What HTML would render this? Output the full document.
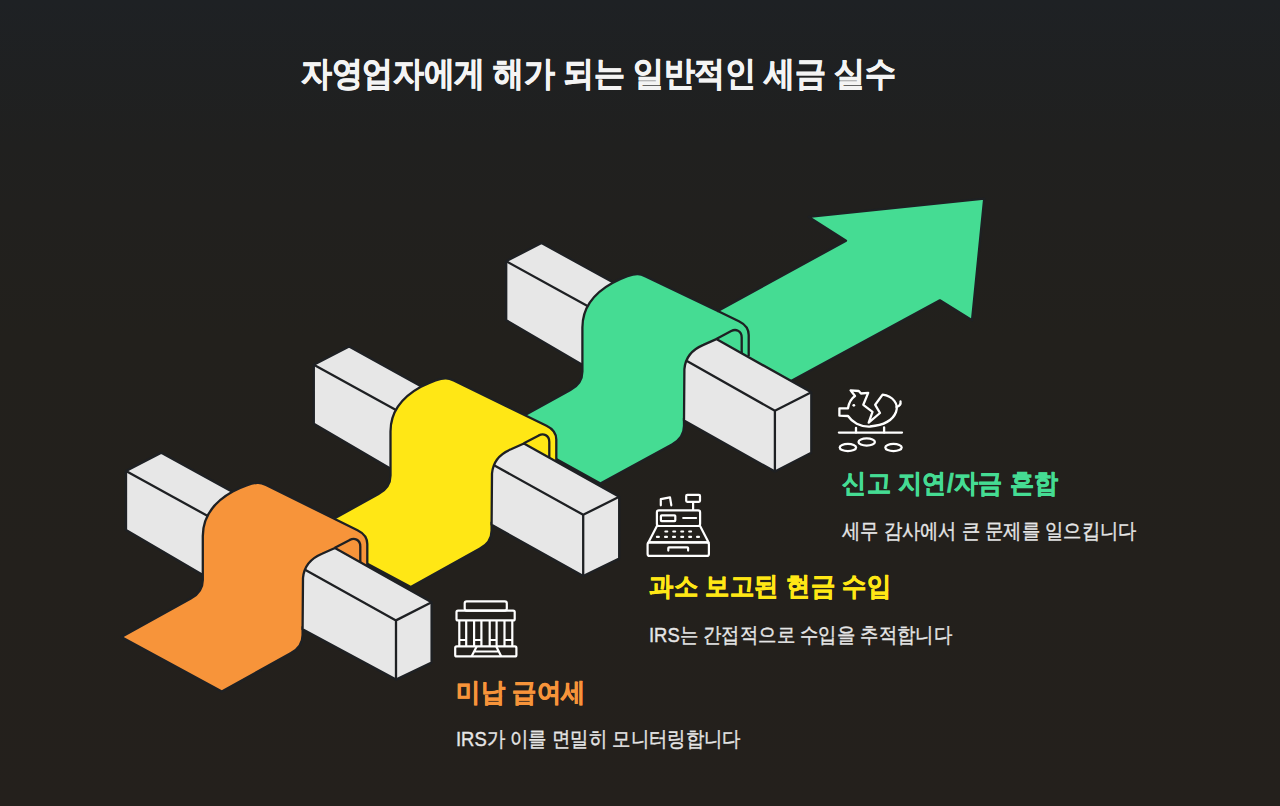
<!DOCTYPE html>
<html lang="ko"><head><meta charset="utf-8"><title>자영업자에게 해가 되는 일반적인 세금 실수</title>
<style>
html,body{margin:0;padding:0;}
body{width:1280px;height:806px;overflow:hidden;position:relative;background:linear-gradient(180deg,#1e2124 0%,#20201f 18%,#21201e 26%,#22201c 42%,#24201c 100%);font-family:'Liberation Sans',sans-serif;}
.t{position:absolute;white-space:nowrap;line-height:1;transform-origin:0 0;}
svg{position:absolute;left:0;top:0;}
</style></head><body>
<svg width="1280" height="806" viewBox="0 0 1280 806">
<path d="M506.2,261.2 L541.5,243 L620.2,286.3 L585.2,350.2 L585.2,366.4 L506.2,320.2 Z" fill="#E7E7E7" stroke="#1e2023" stroke-width="2.3" stroke-linejoin="round"/><path d="M506.2,261.2 L595.2,310.2" stroke="#1e2023" stroke-width="2.3" fill="none"/><path d="M500.9,428.4 L570.4,389.9 Q582.4,383.6 582.4,371.4 L582.4,327.4 C582.4,309.4 591.6,294.4 612.8,282.7 C621.6,278.4 629.6,274.4 637.2,274.2 Q640.6,274 645.6,276.4 L717.8,311 L846,240.7 L808.7,216.9 L984.2,198.7 L972,320.3 L939.9,300.3 L780,387 L740,400 L684,418.1 L684,426.1 Q684,438.2 672,444.4 L600.4,483.6 Z" fill="#45DC93" stroke="#1e2023" stroke-width="2.3" stroke-linejoin="round"/><path d="M717.8,311 L738.9,321.3 Q748.7,326.1 748.7,335.1 L748.7,356.1" stroke="#1e2023" stroke-width="2.3" fill="none"/><path d="M716.3,338.9 L731.2,331 C735.4,328.9 741.7,330.1 741.7,337.5 L741.7,353.1" stroke="#1e2023" stroke-width="2.3" fill="none"/><path d="M716.3,339.1 L703.4,344.9 C693.4,349.1 685.4,357.1 684.4,369.1 L684,420.4 L774.9,471.6 L811.3,452.7 L811.3,392.3 Z" fill="#E7E7E7" stroke="#1e2023" stroke-width="2.3" stroke-linejoin="round"/><path d="M686.9,361.1 L774.9,410.8 L811.3,392.3 M774.9,410.8 L774.9,471.6" stroke="#1e2023" stroke-width="2.3" fill="none" stroke-linejoin="round"/><path d="M313.8,364.8 L349.1,346.6 L427.8,389.9 L392.8,453.8 L392.8,470 L313.8,423.8 Z" fill="#E7E7E7" stroke="#1e2023" stroke-width="2.3" stroke-linejoin="round"/><path d="M313.8,364.8 L402.8,413.8" stroke="#1e2023" stroke-width="2.3" fill="none"/><path d="M309,532.5 L378.5,494 Q390.5,487.7 390.5,475.5 L390.5,431.5 C390.5,413.5 399.7,398.5 420.9,386.8 C429.7,382.5 437.7,378.5 445.3,378.3 Q448.7,378.1 453.7,380.5 L546.5,425.7 Q556.3,430.5 556.3,439.5 L556.3,485.5 L519,495.5 L491.6,522.5 L491.6,530.5 Q491.6,542.6 479.6,548.8 L410.8,587 Z" fill="#FFE715" stroke="#1e2023" stroke-width="2.3" stroke-linejoin="round"/><path d="M523.9,443.3 L538.8,435.4 C543,433.3 549.3,434.5 549.3,441.9 L549.3,457.5" stroke="#1e2023" stroke-width="2.3" fill="none"/><path d="M523.9,443.5 L511,449.3 C501,453.5 493,461.5 492,473.5 L491.6,524.8 L583.2,576 L619.2,558.6 L619.2,496.8 Z" fill="#E7E7E7" stroke="#1e2023" stroke-width="2.3" stroke-linejoin="round"/><path d="M494.5,465.5 L583.2,514.8 L619.2,496.8 M583.2,514.8 L583.2,576" stroke="#1e2023" stroke-width="2.3" fill="none" stroke-linejoin="round"/><path d="M126,471 L161.3,452.8 L240,496.1 L205,560 L205,576.2 L126,530 Z" fill="#E7E7E7" stroke="#1e2023" stroke-width="2.3" stroke-linejoin="round"/><path d="M126,471 L215,520" stroke="#1e2023" stroke-width="2.3" fill="none"/><path d="M121.3,637 L190.8,598.5 Q202.8,592.2 202.8,580 L202.8,536 C202.8,518 212,503 233.2,491.3 C242,487 250,483 257.6,482.8 Q261,482.6 266,485 L357.5,530.2 Q367.3,535 367.3,544 L367.3,590 L330,600 L302.6,627 L302.6,635 Q302.6,647.1 290.6,653.3 L221.8,691.5 Z" fill="#F7943A" stroke="#1e2023" stroke-width="2.3" stroke-linejoin="round"/><path d="M334.9,547.8 L349.8,539.9 C354,537.8 360.3,539 360.3,546.4 L360.3,562" stroke="#1e2023" stroke-width="2.3" fill="none"/><path d="M334.9,548 L322,553.8 C312,558 304,566 303,578 L302.6,629.3 L396,679.6 L431.6,662.6 L431.6,602.3 Z" fill="#E7E7E7" stroke="#1e2023" stroke-width="2.3" stroke-linejoin="round"/><path d="M305.5,570 L396,620.4 L431.6,602.3 M396,620.4 L396,679.6" stroke="#1e2023" stroke-width="2.3" fill="none" stroke-linejoin="round"/>
<g fill="none" stroke="#FFFFFF" stroke-width="2.2" stroke-linejoin="round">
<rect x="464.7" y="601.3" width="42.1" height="9.3" rx="2"/>
<rect x="456.5" y="610.6" width="58.2" height="9.8" rx="1.5"/>
<path d="M459.3,620.4 V646.4 M466.2,620.4 V646.4 M474.1,620.4 V646.4 M481.4,620.4 V646.4 M489.7,620.4 V646.4 M496.6,620.4 V646.4 M504.5,620.4 V646.4 M512.3,620.4 V646.4"/>
<path d="M459.3,640 H466.2 M474.1,640 H481.4 M489.7,640 H496.6 M504.5,640 H512.3"/>
<rect x="455.2" y="646.4" width="61.2" height="10" rx="1.5"/>
<path d="M476.7,646.4 L471.5,656.4 M496.3,646.4 L501.3,656.4 M473.8,651.5 H499"/>
</g><g fill="none" stroke="#FFFFFF" stroke-width="2.2" stroke-linejoin="round" stroke-linecap="round">
<rect x="686.2" y="494.9" width="13.8" height="6.9" rx="1"/>
<path d="M693.1,502 V509.8"/>
<path d="M660.8,505.3 V499.2 L670,497.4 L671.3,505.3"/>
<rect x="656.9" y="510.4" width="43.2" height="15.6" rx="2"/>
<rect x="660.9" y="515.3" width="14.4" height="5.8" rx="0.8"/>
<path d="M683.2,518 H696.1"/>
<path d="M656.9,526 L648.4,542.4 H708.6 L700.1,526"/>
<rect x="647.6" y="542.4" width="61.3" height="13.5" rx="2"/>
<path d="M668.3,550.6 V548 Q668.3,547.4 669,547.4 H687.4 Q688.1,547.4 688.1,548 V550.6"/>
</g>
<g fill="#FFFFFF">
<rect x="664.3" y="530.4" width="4" height="2.2" rx="1"/><rect x="672.2" y="530.4" width="4" height="2.2" rx="1"/><rect x="680.2" y="530.4" width="4" height="2.2" rx="1"/><rect x="688.1" y="530.4" width="4" height="2.2" rx="1"/>
<rect x="655.9" y="535.7" width="4" height="2.2" rx="1"/><rect x="664" y="535.7" width="4" height="2.2" rx="1"/><rect x="672" y="535.7" width="4" height="2.2" rx="1"/><rect x="680.2" y="535.7" width="4" height="2.2" rx="1"/><rect x="688.1" y="535.7" width="4" height="2.2" rx="1"/><rect x="696" y="535.7" width="4" height="2.2" rx="1"/>
</g><g fill="none" stroke="#FFFFFF" stroke-width="2.3" stroke-linejoin="round" stroke-linecap="round">
<path d="M838.9,432.6 H902"/>
<path d="M856,427.8 V432.6 M884.1,427.3 V432.6"/>
<ellipse cx="847.9" cy="447.5" rx="8.2" ry="3.6"/>
<ellipse cx="866.7" cy="442" rx="8.2" ry="3.6"/>
<ellipse cx="893.5" cy="447.5" rx="8.2" ry="3.6"/>
<path d="M868.7,422.7 L880,413 L875.2,404.8 L882.6,394.6 C893,396 899,404 896,412 C893,420 886,425 870,426.5 C860,427 852,422 848,416 L839.4,415.7 V408.3 L848,408.3 C849,402 852,398 855,396 L850.6,390.3 L858.8,391 L861,393.5 L868.2,392.9 L863.3,404.8 L872.5,411.8 Z"/>
<path d="M896.5,407 C899.5,406 901,404 900.5,401.5"/>
</g>
<circle cx="853.8" cy="405.3" r="1.4" fill="#FFFFFF"/>
</svg>
<div class="t" id="title" style="left:301px;top:56.3px;font-size:33px;font-weight:700;color:#f4f4f4;transform:scale(0.929,1.02);-webkit-text-stroke:0.7px #f4f4f4">자영업자에게 해가 되는 일반적인 세금 실수</div>
<div class="t" id="h1" style="left:456px;top:678.5px;font-size:27px;font-weight:700;color:#F7943A;transform:scale(0.913,0.98);-webkit-text-stroke:0.6px #F7943A">미납 급여세</div>
<div class="t" id="s1" style="left:456px;top:728.3px;font-size:21px;font-weight:400;color:#e6e6e6;transform:scale(0.875,1);-webkit-text-stroke:0.4px #e6e6e6">IRS가 이를 면밀히 모니터링합니다</div>
<div class="t" id="h2" style="left:648.5px;top:573.3px;font-size:27px;font-weight:700;color:#FFE715;transform:scale(0.913,0.98);-webkit-text-stroke:0.6px #FFE715">과소 보고된 현금 수입</div>
<div class="t" id="s2" style="left:648.5px;top:624.3px;font-size:21px;font-weight:400;color:#e6e6e6;transform:scale(0.875,1);-webkit-text-stroke:0.4px #e6e6e6">IRS는 간접적으로 수입을 추적합니다</div>
<div class="t" id="h3" style="left:842px;top:470.2px;font-size:27px;font-weight:700;color:#45DC93;transform:scale(0.908,0.98);-webkit-text-stroke:0.6px #45DC93">신고 지연/자금 혼합</div>
<div class="t" id="s3" style="left:842px;top:520.2px;font-size:21px;font-weight:400;color:#e6e6e6;transform:scale(0.87,1);-webkit-text-stroke:0.4px #e6e6e6">세무 감사에서 큰 문제를 일으킵니다</div>
</body></html>
